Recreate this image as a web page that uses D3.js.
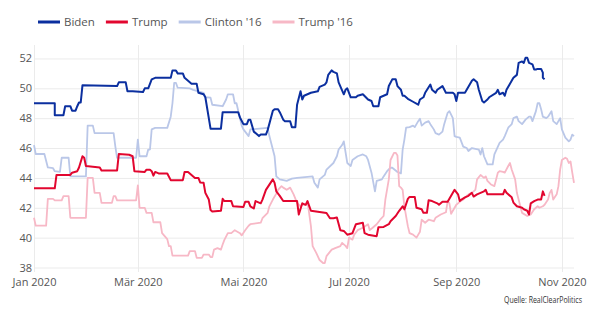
<!DOCTYPE html>
<html>
<head>
<meta charset="utf-8">
<script src="https://cdn.jsdelivr.net/npm/d3@7"></script>
<style>
  body { margin: 0; background: #fff; }
  svg { display: block; font-family: "Open Sans", sans-serif; }
</style>
</head>
<body>
<div id="chart"></div>
<script>
const width = 605, height = 330;

const seriesNames = ["Biden", "Trump", "Clinton '16", "Trump '16"];
const seriesColors = ["#0b2f9f", "#e2062f", "#bac7e8", "#f7b8c6"];
const yTicks = [38, 40, 42, 44, 46, 48, 50, 52];
const xTickDates = ["01-01", "03-01", "05-01", "07-01", "09-01", "11-01"];
const xTickLabels = ["Jan 2020", "Mär 2020", "Mai 2020", "Jul 2020", "Sep 2020", "Nov 2020"];
const source = "Quelle: RealClearPolitics";

// polling averages, [month-day 2020, percent]
const biden = [["01-01",49.0],["01-13",49.0],["01-13",48.2],["01-18",48.2],["01-19",48.8],["01-22",48.8],["01-23",48.5],["01-25",48.5],["01-26",48.8],["01-27",49.05],["01-28",49.05],["01-29",50.2],["02-18",50.15],["02-19",50.4],["02-23",50.4],["02-24",49.8],["02-27",49.8],["03-04",49.75],["03-05",50.0],["03-07",50.0],["03-09",50.6],["03-11",50.7],["03-20",50.7],["03-21",51.2],["03-23",51.2],["03-24",51.0],["03-27",51.0],["03-28",50.7],["03-31",50.4],["04-01",50.3],["04-04",50.3],["04-05",49.7],["04-08",49.6],["04-09",49.4],["04-12",47.3],["04-18",47.3],["04-19",48.4],["04-28",48.4],["04-29",48.05],["05-01",47.6],["05-03",47.6],["05-04",47.9],["05-05",47.9],["05-07",47.1],["05-10",46.8],["05-11",46.9],["05-14",46.9],["05-15",47.2],["05-18",48.5],["05-19",48.6],["05-21",48.6],["05-22",48.4],["05-24",47.9],["05-25",47.8],["05-28",47.8],["05-29",47.4],["05-31",47.4],["06-01",48.9],["06-03",49.8],["06-04",49.25],["06-05",49.5],["06-09",49.7],["06-13",49.8],["06-14",50.1],["06-17",50.25],["06-18",50.4],["06-19",50.9],["06-21",51.2],["06-22",51.1],["06-24",51.0],["06-25",50.4],["06-28",49.6],["06-29",49.9],["06-30",50.0],["07-02",49.4],["07-05",49.4],["07-06",49.5],["07-09",49.6],["07-12",49.25],["07-14",49.15],["07-15",48.8],["07-18",48.8],["07-19",49.4],["07-23",49.6],["07-24",50.15],["07-26",50.6],["07-28",50.6],["07-29",50.15],["07-31",49.9],["08-01",49.5],["08-02",49.5],["08-04",49.3],["08-07",49.1],["08-10",48.9],["08-11",49.25],["08-13",49.4],["08-14",49.7],["08-17",50.25],["08-18",49.9],["08-20",49.7],["08-21",49.9],["08-24",50.15],["08-26",49.7],["08-30",49.7],["08-31",49.6],["09-01",49.15],["09-02",49.7],["09-06",49.7],["09-07",49.9],["09-10",50.5],["09-11",50.6],["09-13",50.4],["09-14",49.9],["09-16",49.15],["09-17",49.05],["09-19",49.25],["09-20",49.4],["09-24",49.7],["09-25",49.9],["09-26",49.6],["09-28",49.7],["09-29",49.5],["09-30",49.9],["10-03",50.5],["10-04",50.7],["10-06",50.9],["10-07",51.7],["10-09",51.8],["10-10",51.7],["10-11",52.05],["10-12",52.05],["10-13",51.7],["10-15",51.6],["10-16",51.26],["10-17",51.26],["10-18",51.3],["10-20",51.3],["10-21",51.05],["10-21",50.7],["10-22",50.6]];

const trump = [["01-01",43.3],["01-13",43.3],["01-14",44.2],["01-22",44.2],["01-23",44.35],["01-26",44.45],["01-27",44.7],["01-29",45.45],["01-30",45.35],["01-31",44.8],["02-08",44.7],["02-09",44.5],["02-18",44.5],["02-19",45.6],["02-25",45.55],["02-27",45.45],["02-28",44.45],["03-05",44.4],["03-06",44.55],["03-08",44.55],["03-09",44.45],["03-10",44.15],["03-11",44.4],["03-13",44.3],["03-18",44.3],["03-20",43.85],["03-27",43.85],["03-28",44.4],["03-30",44.4],["03-31",44.3],["04-02",44.1],["04-03",44.0],["04-05",44.0],["04-06",43.7],["04-08",43.67],["04-09",43.0],["04-11",42.55],["04-12",41.85],["04-13",41.75],["04-18",41.8],["04-19",42.6],["04-20",42.45],["04-24",42.45],["04-25",42.1],["05-01",42.05],["05-02",42.4],["05-04",42.4],["05-05",42.1],["05-07",41.95],["05-08",42.45],["05-11",42.3],["05-12",42.55],["05-14",43.2],["05-16",43.55],["05-18",43.9],["05-19",43.67],["05-20",43.1],["05-22",42.8],["05-24",42.45],["06-01",42.45],["06-02",41.55],["06-04",42.3],["06-06",42.2],["06-07",42.45],["06-09",41.8],["06-18",41.65],["06-20",41.3],["06-22",41.3],["06-24",41.35],["06-26",40.5],["06-28",40.45],["06-30",40.2],["07-03",40.3],["07-05",40.9],["07-09",41.0],["07-10",40.3],["07-12",40.2],["07-17",40.1],["07-18",40.7],["07-21",40.72],["07-24",40.9],["07-25",41.1],["07-28",41.45],["07-30",41.8],["08-01",42.1],["08-02",41.9],["08-04",42.6],["08-05",42.73],["08-08",42.73],["08-09",42.0],["08-12",41.9],["08-13",41.66],["08-15",41.66],["08-16",42.5],["08-18",42.45],["08-21",42.3],["08-22",42.2],["08-24",42.4],["08-27",42.4],["08-29",42.8],["08-31",43.2],["09-02",42.9],["09-03",42.45],["09-04",42.55],["09-06",42.7],["09-08",42.8],["09-10",43.0],["09-11",42.75],["09-13",42.9],["09-15",43.0],["09-17",43.1],["09-18",43.2],["09-19",42.9],["09-28",42.9],["09-29",43.2],["09-30",43.0],["10-03",42.7],["10-04",42.35],["10-06",42.1],["10-09",42.0],["10-10",41.9],["10-12",41.8],["10-13",41.55],["10-14",42.3],["10-16",42.45],["10-18",42.55],["10-20",42.55],["10-21",43.1],["10-22",42.8]];

const clinton16 = [["01-01",46.2],["01-02",45.6],["01-07",45.6],["01-09",44.7],["01-12",44.65],["01-13",44.45],["01-16",44.4],["01-17",45.35],["01-21",45.35],["01-22",44.1],["01-31",44.1],["02-01",47.5],["02-04",47.5],["02-05",47.0],["02-16",47.0],["02-17",46.1],["02-18",45.35],["02-29",45.35],["03-01",46.57],["03-02",45.45],["03-06",45.45],["03-07",45.9],["03-08",45.9],["03-09",47.25],["03-11",47.35],["03-18",47.35],["03-20",48.1],["03-21",49.0],["03-22",50.37],["03-23",50.37],["03-24",50.04],["03-31",50.0],["04-02",49.9],["04-08",49.7],["04-09",49.4],["04-12",49.37],["04-13",48.9],["04-19",48.8],["04-21",49.25],["04-22",49.6],["04-25",49.6],["04-26",49.0],["04-27",49.0],["04-28",48.5],["04-30",47.5],["05-01",47.25],["05-04",46.8],["05-05",47.25],["05-15",47.35],["05-16",46.8],["05-19",45.45],["05-20",44.1],["05-22",43.9],["05-26",43.8],["05-29",43.95],["06-01",44.0],["06-10",44.1],["06-11",43.67],["06-13",43.35],["06-14",43.9],["06-17",44.2],["06-18",44.56],["06-22",45.0],["06-24",45.45],["06-25",45.9],["06-27",46.2],["06-28",46.45],["06-30",45.0],["07-02",44.8],["07-03",45.2],["07-06",45.45],["07-09",45.57],["07-11",45.45],["07-12",45.2],["07-14",44.35],["07-16",43.1],["07-17",43.8],["07-20",43.9],["07-21",44.1],["07-23",44.45],["07-25",44.68],["07-26",44.68],["07-29",44.4],["07-31",44.3],["08-01",45.9],["08-02",46.57],["08-03",47.36],["08-05",47.4],["08-07",47.5],["08-08",47.4],["08-10",47.8],["08-11",47.96],["08-12",47.5],["08-14",47.7],["08-16",47.8],["08-17",47.6],["08-19",47.25],["08-20",47.0],["08-22",46.9],["08-24",47.1],["08-25",47.6],["08-27",48.36],["08-28",48.47],["08-30",48.0],["08-31",46.8],["09-01",46.75],["09-03",46.7],["09-05",46.1],["09-07",46.0],["09-08",45.8],["09-10",46.0],["09-12",45.95],["09-14",45.9],["09-15",45.57],["09-16",46.0],["09-17",45.45],["09-19",44.9],["09-22",44.9],["09-23",45.57],["09-26",46.35],["09-28",46.57],["09-29",46.8],["10-01",47.36],["10-03",47.6],["10-04",48.0],["10-06",48.1],["10-07",47.8],["10-09",47.6],["10-11",47.9],["10-13",48.1],["10-14",48.1],["10-15",47.8],["10-17",48.47],["10-18",49.0],["10-19",49.0],["10-20",48.6],["10-21",48.1],["10-23",48.0],["10-24",48.1],["10-26",48.47],["10-27",47.8],["10-29",47.6],["10-31",48.0],["11-01",47.25],["11-03",46.7],["11-05",46.45],["11-06",46.57],["11-07",46.9],["11-08",46.8]];

const trump16 = [["01-01",41.33],["01-02",40.8],["01-08",40.8],["01-09",42.6],["01-12",42.6],["01-13",42.5],["01-17",42.5],["01-18",42.78],["01-21",42.78],["01-22",41.33],["01-31",41.33],["02-01",44.0],["02-04",44.0],["02-05",43.0],["02-08",43.0],["02-09",42.33],["02-15",42.33],["02-16",42.78],["02-17",42.78],["02-18",42.5],["02-29",42.5],["03-01",43.5],["03-02",42.0],["03-05",42.0],["03-06",41.66],["03-09",41.66],["03-10",41.03],["03-14",41.03],["03-15",40.3],["03-18",39.9],["03-19",39.43],["03-20",39.43],["03-21",38.8],["03-30",38.8],["03-31",39.1],["04-03",39.1],["04-04",38.65],["04-07",38.65],["04-08",38.87],["04-11",38.87],["04-12",38.7],["04-13",38.7],["04-14",39.2],["04-16",39.3],["04-18",39.2],["04-19",39.54],["04-20",39.85],["04-22",40.3],["04-24",40.3],["04-26",40.5],["04-29",40.3],["04-30",40.15],["05-02",40.5],["05-04",40.8],["05-05",40.9],["05-11",41.0],["05-12",41.3],["05-15",41.66],["05-16",42.1],["05-18",42.55],["05-20",42.95],["05-21",43.2],["05-23",43.45],["05-24",43.35],["05-26",43.2],["05-28",43.35],["05-30",42.9],["06-01",42.33],["06-03",42.1],["06-04",42.2],["06-06",42.2],["06-07",42.45],["06-09",40.77],["06-10",39.43],["06-12",39.0],["06-14",38.5],["06-16",38.3],["06-17",38.3],["06-18",38.76],["06-21",39.2],["06-23",39.3],["06-26",39.43],["06-27",39.65],["06-29",39.45],["06-30",39.3],["07-01",40.0],["07-03",39.87],["07-04",40.2],["07-06",40.5],["07-09",40.66],["07-12",40.9],["07-13",40.5],["07-15",40.7],["07-17",40.9],["07-19",41.2],["07-21",41.45],["07-22",42.55],["07-24",43.9],["07-25",45.2],["07-27",45.68],["07-28",45.68],["07-29",45.5],["07-30",43.45],["07-31",43.35],["08-01",43.2],["08-02",42.1],["08-04",40.77],["08-05",40.3],["08-07",40.2],["08-09",40.0],["08-11",40.4],["08-12",41.2],["08-14",41.0],["08-16",41.2],["08-19",41.1],["08-20",41.33],["08-23",41.55],["08-26",41.7],["08-27",42.45],["08-28",42.3],["08-29",41.6],["08-31",42.0],["09-01",42.2],["09-03",42.4],["09-05",42.55],["09-07",42.8],["09-08",42.9],["09-10",43.0],["09-12",43.2],["09-13",43.9],["09-15",44.2],["09-17",44.0],["09-18",44.1],["09-19",43.8],["09-21",43.56],["09-23",43.45],["09-25",44.35],["09-26",44.45],["09-28",44.4],["09-29",44.35],["10-01",44.8],["10-02",45.0],["10-03",44.56],["10-05",43.9],["10-06",43.0],["10-08",42.1],["10-09",41.66],["10-12",41.45],["10-14",41.55],["10-16",41.9],["10-18",42.1],["10-19",42.0],["10-21",42.1],["10-22",42.2],["10-24",42.55],["10-25",43.0],["10-26",43.2],["10-27",42.55],["10-29",42.9],["10-30",43.45],["10-31",44.56],["11-01",45.2],["11-03",45.35],["11-04",45.28],["11-05",45.0],["11-06",45.1],["11-07",44.35],["11-08",43.67]];

const parse = (s) => d3.timeParse("%Y-%m-%d")("2020-" + s);
const allSeries = [biden, trump, clinton16, trump16];

const svg = d3.select("#chart").append("svg")
  .attr("width", width)
  .attr("height", height);

const x = d3.scaleTime()
  .domain([parse("01-01"), parse("11-08")])
  .range([34, 574]);

const y = d3.scaleLinear()
  .domain([37.7, 52.9])
  .range([272, 45]);

// grid
svg.append("g")
  .selectAll("line")
  .data(yTicks)
  .join("line")
  .attr("x1", x.range()[0])
  .attr("x2", x.range()[1])
  .attr("y1", d => y(d) + 0.5)
  .attr("y2", d => y(d) + 0.5)
  .attr("stroke", "#ebebeb");

svg.append("g")
  .selectAll("line")
  .data(xTickDates)
  .join("line")
  .attr("x1", d => Math.round(x(parse(d))) + 0.5)
  .attr("x2", d => Math.round(x(parse(d))) + 0.5)
  .attr("y1", y.range()[1])
  .attr("y2", y.range()[0])
  .attr("stroke", "#ebebeb");

// axes
const yAxis = svg.append("g")
  .attr("transform", `translate(${x.range()[0]},0)`)
  .call(d3.axisLeft(y).tickValues(yTicks).tickSize(0).tickPadding(2));
yAxis.select(".domain").remove();
yAxis.selectAll("text").attr("font-size", 11).attr("fill", "#555").attr("font-family", "Open Sans, sans-serif");

const xAxis = svg.append("g")
  .attr("transform", `translate(0,${y.range()[0]})`)
  .call(d3.axisBottom(x)
    .tickValues(xTickDates.map(parse))
    .tickFormat((d, i) => xTickLabels[i])
    .tickSize(0)
    .tickPadding(6));
xAxis.select(".domain").remove();
xAxis.selectAll("text").attr("font-size", 11).attr("fill", "#555").attr("font-family", "Open Sans, sans-serif");

// lines, 2016 first so they sit behind
const line = d3.line()
  .x(d => x(parse(d[0])))
  .y(d => y(d[1]));

const drawOrder = [2, 3, 1, 0];
svg.append("g")
  .selectAll("path")
  .data(drawOrder)
  .join("path")
  .attr("d", i => line(allSeries[i]))
  .attr("fill", "none")
  .attr("stroke", i => seriesColors[i])
  .attr("stroke-width", i => i < 2 ? 2 : 1.8)
  .attr("stroke-linejoin", "round");

// legend
const legend = svg.append("g").attr("transform", "translate(38,22)");
let lx = 0;
seriesNames.forEach((name, i) => {
  const g = legend.append("g").attr("transform", `translate(${lx},0)`);
  g.append("line")
    .attr("x1", 0).attr("x2", 22)
    .attr("stroke", seriesColors[i])
    .attr("stroke-width", 3);
  const t = g.append("text")
    .attr("x", 26)
    .attr("dy", "0.35em")
    .attr("font-size", 11.5)
    .attr("fill", "#555")
    .text(name);
  lx += 26 + t.node().getComputedTextLength() + 11;
});

svg.append("text")
  .attr("x", 582)
  .attr("y", 303)
  .attr("text-anchor", "end")
  .attr("font-size", 8.5)
  .attr("textLength", 78)
  .attr("lengthAdjust", "spacingAndGlyphs")
  .attr("fill", "#333")
  .text(source);
</script>
</body>
</html>
